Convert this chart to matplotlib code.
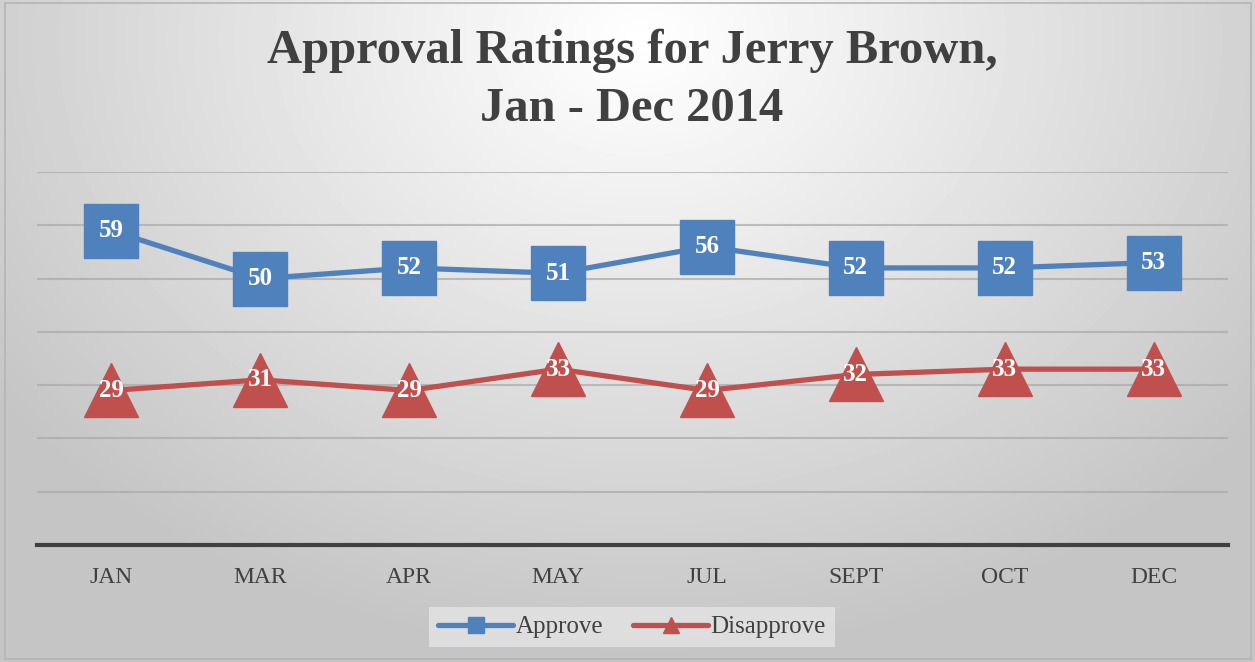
import numpy as np
import matplotlib
matplotlib.use("Agg")
from matplotlib import pyplot as plt
from matplotlib.patches import Rectangle

months = ["JAN", "MAR", "APR", "MAY", "JUL", "SEPT", "OCT", "DEC"]
approve = [59, 50, 52, 51, 56, 52, 52, 53]
disapprove = [29, 31, 29, 33, 29, 32, 33, 33]

blue = "#4F81BD"
red = "#C0504D"
txt = "#404040"
serif = ["Liberation Serif", "DejaVu Serif"]

W, H = 1255, 662
fig = plt.figure(figsize=(W / 100, H / 100), dpi=100)

# background radial gradient
bg = fig.add_axes([0, 0, 1, 1], zorder=-10)
yy, xx = np.mgrid[0:H, 0:W]
r = np.sqrt(((xx - 640) / 900.0) ** 2 + ((yy - 40) / 700.0) ** 2)
shade = np.clip(1.0 - 0.26 * r, 0.77, 1.0)
bg.imshow(shade, cmap="gray", vmin=0, vmax=1, extent=[0, W, H, 0], aspect="auto")
bg.add_patch(Rectangle((5, 3), W - 9, H - 6, fill=False, ec="#b5b5b5", lw=1.2))
bg.set_xlim(0, W)
bg.set_ylim(H, 0)
bg.axis("off")

ax = fig.add_axes([37 / W, 1 - 545 / H, (1228 - 37) / W, (545 - 172) / H])
ax.patch.set_alpha(0)
x = np.arange(len(months))

ax.plot(x, approve, color=blue, lw=3.8, marker="s", ms=39, mec=blue, mfc=blue,
        solid_capstyle="round", zorder=3, label="Approve")
ax.plot(x, disapprove, color=red, lw=3.8, marker="^", ms=39, mec=red, mfc=red,
        solid_capstyle="round", zorder=3, label="Disapprove")

for i in range(len(x)):
    ax.text(x[i], approve[i], str(approve[i]), color="white", ha="center", va="center",
            fontsize=18, fontweight="bold", family=serif, zorder=5)
    ax.text(x[i], disapprove[i], str(disapprove[i]), color="white", ha="center", va="center",
            fontsize=18, fontweight="bold", family=serif, zorder=5)

ax.set_xlim(-0.5, len(months) - 0.5)
ax.set_ylim(0, 70)
ax.set_yticks(np.arange(10, 71, 10))
ax.yaxis.grid(True, color="#a8a8a8", lw=1.5, alpha=0.7)
ax.set_axisbelow(True)
ax.tick_params(axis="y", left=False, labelleft=False)
ax.tick_params(axis="x", length=0, pad=16, labelsize=17, labelcolor=txt)
ax.set_xticks(x)
ax.set_xticklabels(months, family=serif)
for s in ["top", "right", "left"]:
    ax.spines[s].set_visible(False)
ax.spines["bottom"].set_color("#404040")
ax.spines["bottom"].set_linewidth(3)

fig.text(632 / W, 1 - 80 / H, "Approval Ratings for Jerry Brown,\nJan - Dec 2014",
         ha="center", va="center", fontsize=35, fontweight="bold", color=txt,
         family=serif, linespacing=1.4)

leg = fig.legend(loc="center", bbox_to_anchor=(632 / W, 1 - 627 / H), ncol=2,
                 prop={"family": serif, "size": 18}, frameon=True, fancybox=False,
                 markerscale=0.3, handlelength=3.0, columnspacing=1.2, handletextpad=0.1,
                 borderpad=0.35)
leg.get_frame().set_facecolor("#e4e4e4")
leg.get_frame().set_edgecolor("none")
for t in leg.get_texts():
    t.set_color(txt)

fig.savefig("out.png", dpi=100)
